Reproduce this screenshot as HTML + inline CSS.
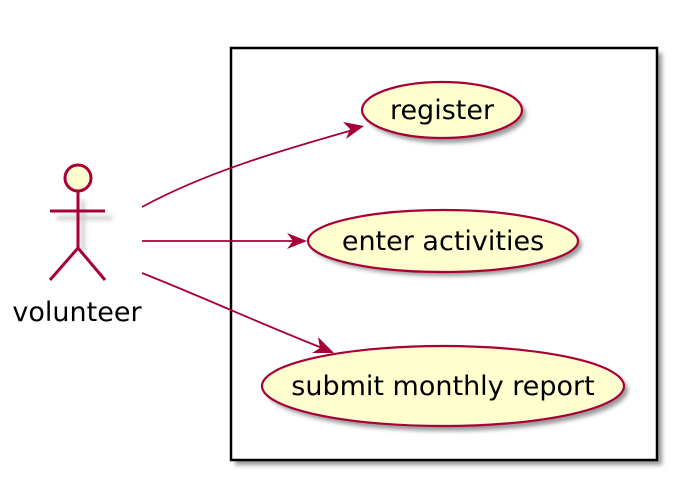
<!DOCTYPE html>
<html><head><style>body{margin:0;background:#fff}svg{display:block}</style></head><body>
<svg width="676" height="480" viewBox="0 0 676 480" xmlns="http://www.w3.org/2000/svg">
<defs><filter id="s" x="-20%" y="-20%" width="150%" height="150%"><feGaussianBlur stdDeviation="2"/></filter></defs>
<rect x="235" y="53" width="427" height="412" fill="#999" filter="url(#s)"/>
<rect x="231" y="48" width="426" height="412" fill="#fff" stroke="#000" stroke-width="2.5"/>
<g fill="#999" filter="url(#s)">
<ellipse cx="446" cy="114" rx="80" ry="29"/>
<ellipse cx="447" cy="245" rx="135" ry="31"/>
<ellipse cx="447" cy="390" rx="181" ry="41"/>
</g>
<g fill="#FEFECE" stroke="#A80036" stroke-width="2.2">
<ellipse cx="442" cy="110" rx="80" ry="28"/>
<ellipse cx="443" cy="241" rx="135" ry="31"/>
<ellipse cx="443" cy="386" rx="181" ry="40"/>
</g>
<g font-family="DejaVu Sans, sans-serif" font-size="27" fill="#000" text-anchor="middle">
<text x="442" y="119">register</text>
<text x="443" y="250">enter activities</text>
<text x="443" y="395">submit monthly report</text>
<text x="77" y="321">volunteer</text>
</g>
<g stroke="#ccc" stroke-width="4" fill="none" filter="url(#s)">
<line x1="83" y1="200" x2="83" y2="252"/><line x1="57" y1="218" x2="112" y2="218"/>
</g>
<g stroke="#A80036" stroke-width="3" fill="none">
<circle cx="78" cy="178" r="13" fill="#FEFECE"/>
<line x1="78" y1="191" x2="78" y2="248"/>
<line x1="50" y1="211" x2="105" y2="211"/>
<polyline points="50,280 78,248 105,280"/>
</g>
<g stroke="#A80036" stroke-width="1.8" fill="none">
<path d="M142,207 C210,170 290,148 360,128"/>
<line x1="142" y1="241" x2="304" y2="241"/>
<path d="M142,273 C210,300 270,328 330,351"/>
</g>
<g fill="#A80036">
<polygon points="364,126 346,139 350,129 343,122"/>
<polygon points="307,241 287,233 293,241 287,249"/>
<polygon points="334,353 312,353 320,348 318,337"/>
</g>
</svg>
</body></html>
